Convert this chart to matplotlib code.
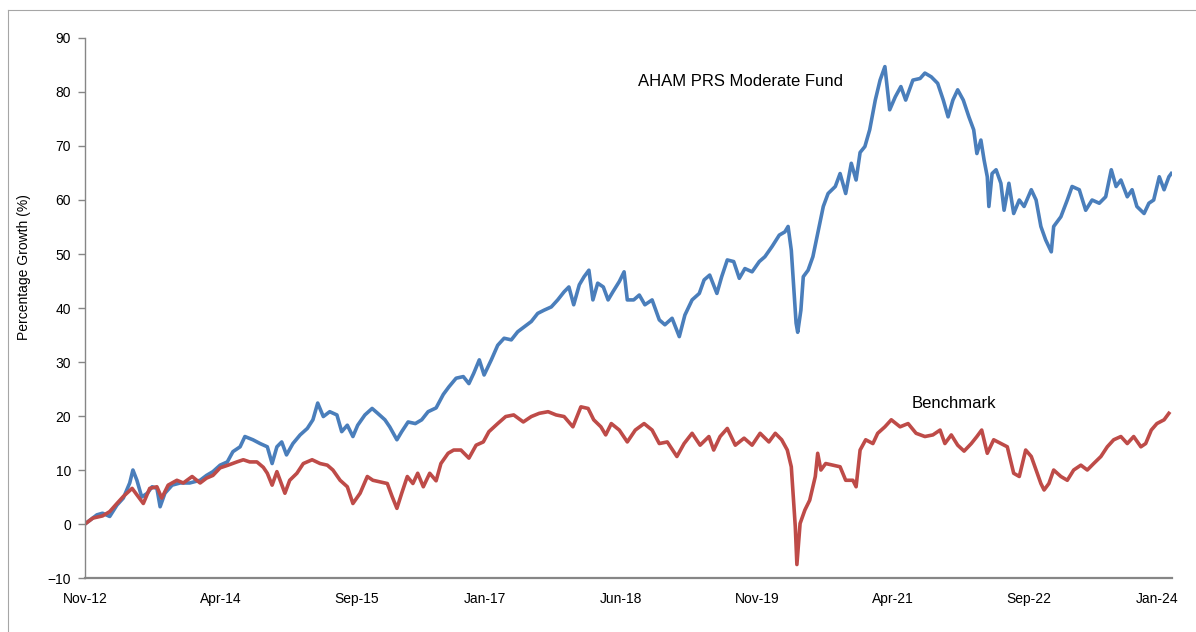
import numpy as np
import pandas as pd
import matplotlib
matplotlib.use("Agg")
import matplotlib.pyplot as plt
from matplotlib.lines import Line2D

FONT = ["Liberation Sans", "DejaVu Sans"]
FUND_COLOR = "#4a7ebb"
BENCH_COLOR = "#be4b48"
AXIS_COLOR = "#868686"
LINE_WIDTH = 2.6

matplotlib.rcParams.update({"font.family": FONT, "font.size": 10})

# x values are months since Nov-2012
fund_months = [
    0, 1.5, 2.2, 3.1, 4, 4.8, 5.6, 6, 6.5, 7.1, 7.8, 8.4, 9, 9.4, 10, 10.9,
    11.9, 13.1, 14.4, 15.2, 16, 16.9, 17.8, 18.5, 19.4, 20, 21, 21.9, 22.8,
    23.4, 24, 24.6, 25.2, 26, 26.9, 27.8, 28.5, 29.1, 29.8, 30.6, 31.5, 32.1,
    32.8, 33.5, 34.1, 35, 35.9, 36.6, 37.5, 38.1, 39, 39.6, 40.4, 41.3, 42.1,
    42.9, 43.9, 44.8, 45.5, 46.4, 47.3, 48, 48.6, 49.3, 49.9, 50.8, 51.6,
    52.4, 53.3, 54.1, 54.9, 55.8, 56.6, 57.4, 58.3, 59.1, 59.9, 60.5, 61.1,
    61.8, 62.4, 63, 63.5, 64.1, 64.8, 65.4, 66, 66.8, 67.4, 67.8, 68.6, 69.3,
    70, 70.9, 71.8, 72.5, 73.4, 74.3, 75, 75.9, 76.8, 77.4, 78.1, 79, 79.6,
    80.3, 81.1, 81.8, 82.5, 83.4, 84.3, 85, 85.9, 86.8, 87.5, 87.9, 88.3,
    88.9, 89.1, 89.5, 89.8, 90.4, 91, 91.6, 92.3, 92.9, 93.8, 94.4, 95.1,
    95.8, 96.4, 96.9, 97.5, 98.1, 98.8, 99.4, 100, 100.6, 101.3, 102, 102.6,
    103.5, 104.4, 105, 105.8, 106.6, 107.3, 107.9, 108.5, 109.1, 109.8, 110.5,
    111.1, 111.5, 112, 112.4, 112.8, 113, 113.4, 113.9, 114.5, 114.9, 115.5,
    116.1, 116.8, 117.4, 118.3, 118.9, 119.5, 120.1, 120.8, 121.1, 122, 122.8,
    123.4, 124.3, 125.1, 125.9, 126.8, 127.6, 128.3, 128.9, 129.5, 130.3,
    130.9, 131.5, 132.4, 133, 133.6, 134.3, 134.9, 135.5, 135.8,
]
fund_growth = [
    0, 1.7, 2, 1.4, 3.5, 4.8, 7.6, 10, 8.1, 5, 5.7, 6.9, 6.6, 3.2, 5.7, 7.2,
    7.6, 7.6, 8.1, 9, 9.7, 10.9, 11.5, 13.4, 14.3, 16.2, 15.6, 14.9, 14.3,
    11.2, 14.3, 15.2, 12.8, 14.9, 16.5, 17.7, 19.3, 22.4, 19.9, 20.8, 20.2,
    17.1, 18.3, 16.2, 18.3, 20.2, 21.4, 20.5, 19.3, 18, 15.6, 17.1, 18.9,
    18.6, 19.3, 20.8, 21.5, 24, 25.4, 27, 27.3, 26, 27.9, 30.4, 27.6, 30.4,
    33.1, 34.4, 34.1, 35.6, 36.5, 37.5, 39, 39.6, 40.2, 41.5, 43, 43.9, 40.6,
    44.3, 45.8, 47, 41.5, 44.6, 43.9, 41.5, 43, 44.9, 46.7, 41.5, 41.5, 42.4,
    40.6, 41.5, 37.8, 36.9, 38.1, 34.7, 38.7, 41.5, 42.7, 45.2, 46.1, 42.7,
    45.8, 48.9, 48.6, 45.5, 47.3, 46.7, 48.6, 49.5, 51.4, 53.5, 54.1, 55.1,
    50.7, 37.2, 35.5, 39.6, 45.8, 47, 49.5, 53.8, 58.8, 61.2, 62.5, 64.9,
    61.2, 66.8, 63.7, 68.8, 69.9, 73, 78.5, 82.2, 84.7, 76.7, 79.1, 81, 78.5,
    82.2, 82.5, 83.5, 82.8, 81.6, 78.5, 75.4, 78.5, 80.4, 78.5, 75.4, 73,
    68.6, 71.1, 67.4, 64.3, 58.8, 64.9, 65.6, 63.1, 58.1, 63.1, 57.5, 60,
    58.8, 61.9, 60, 55.1, 52.6, 50.4, 55.1, 56.9, 60, 62.5, 61.9, 58.1, 60,
    59.4, 60.6, 65.6, 62.5, 63.7, 60.6, 61.9, 58.8, 57.5, 59.4, 60, 64.3,
    61.9, 64.3, 64.9,
]

bench_months = [
    0, 1, 2.2, 3.1, 4, 4.8, 5.9, 6.5, 7.3, 8.1, 9, 9.6, 10.4, 11.5, 12.3,
    13.4, 14.4, 15.2, 16, 16.9, 17.9, 19, 19.8, 20.6, 21.5, 22.3, 22.8, 23.4,
    24, 25, 25.6, 26.5, 27.3, 28.4, 29.4, 30.3, 31, 31.9, 32.8, 33.5, 34.4,
    35.3, 36, 36.9, 37.8, 38.4, 39, 39.6, 40.3, 41, 41.6, 42.3, 43.1, 43.9,
    44.5, 45.4, 46.1, 47, 48, 48.9, 49.8, 50.5, 51.6, 52.6, 53.6, 54.8, 55.8,
    56.8, 57.9, 58.9, 59.9, 61, 62, 62.9, 63.6, 64.5, 65.1, 65.8, 66.8, 67.8,
    68.8, 69.9, 70.9, 71.8, 72.8, 74, 74.9, 75.9, 76.9, 78, 78.6, 79.4, 80.3,
    81.3, 82.4, 83.4, 84.4, 85.5, 86.3, 87.1, 87.8, 88.3, 88.8, 89, 89.4, 90,
    90.6, 91.3, 91.6, 92, 92.6, 93.5, 94.4, 95.1, 96, 96.4, 96.9, 97.6, 98.5,
    99.1, 100, 100.8, 101.9, 102.9, 103.9, 105, 106, 106.9, 107.5, 108.3,
    109.1, 109.9, 110.8, 111.5, 112.1, 112.8, 113.6, 114.5, 115.3, 116.1,
    116.8, 117.6, 118.3, 118.9, 119.5, 119.9, 120.5, 121.1, 122, 122.8, 123.6,
    124.5, 125.3, 126.1, 127, 127.8, 128.6, 129.5, 130.3, 131.1, 132, 132.6,
    133.3, 134, 134.9, 135.5,
]
bench_growth = [
    0, 1.1, 1.5, 2.3, 3.8, 5.1, 6.6, 5.4, 3.8, 6.6, 6.9, 4.8, 7.2, 8.1, 7.6,
    8.8, 7.6, 8.5, 9, 10.4, 10.9, 11.5, 11.9, 11.5, 11.5, 10.5, 9.4, 7.2, 9.7,
    5.7, 8.1, 9.4, 11.2, 11.9, 11.2, 10.9, 10, 8.1, 6.9, 3.8, 5.7, 8.8, 8.1,
    7.8, 7.5, 5.1, 2.9, 5.7, 8.8, 7.5, 9.4, 6.9, 9.4, 8, 11.2, 13.1, 13.7,
    13.7, 12.2, 14.6, 15.2, 17.1, 18.6, 19.9, 20.2, 18.9, 19.9, 20.5, 20.8,
    20.2, 19.9, 18, 21.7, 21.4, 19.3, 18, 16.5, 18.6, 17.4, 15.2, 17.4, 18.6,
    17.4, 14.9, 15.2, 12.5, 14.9, 16.8, 14.6, 16.2, 13.7, 16.2, 17.7, 14.6,
    15.9, 14.6, 16.8, 15.2, 16.8, 15.6, 13.7, 10.6, -0.5, -7.5, 0.1, 2.6, 4.4,
    8.8, 13.1, 10, 11.2, 10.9, 10.6, 8.1, 8.1, 6.9, 13.7, 15.6, 14.9, 16.8,
    18, 19.3, 18, 18.6, 16.8, 16.2, 16.5, 17.4, 14.9, 16.5, 14.6, 13.5, 14.9,
    16.2, 17.4, 13.1, 15.6, 14.9, 14.3, 9.4, 8.8, 13.7, 12.5, 10, 7.5, 6.3,
    7.5, 10, 8.8, 8.1, 10, 10.9, 10, 11.2, 12.5, 14.3, 15.6, 16.2, 14.9, 16.2,
    14.3, 14.9, 17.4, 18.6, 19.3, 20.5,
]

tick_labels = ["Nov-12", "Apr-14", "Sep-15", "Jan-17", "Jun-18",
               "Nov-19", "Apr-21", "Sep-22", "Jan-24"]
y_ticks = list(range(-10, 91, 10))

FUND_NAME = "AHAM PRS Moderate Fund"
BENCH_NAME = "Benchmark"


def _months_since_start(label: str) -> int:
    start = pd.to_datetime(tick_labels[0], format="%b-%y")
    date = pd.to_datetime(label, format="%b-%y")
    return (date.year - start.year) * 12 + (date.month - start.month)


fig = plt.figure(figsize=(11.96, 6.32), dpi=100)
ax = fig.add_axes([0.071, 0.0854, 0.909, 0.8545])

ax.plot(fund_months, fund_growth, color=FUND_COLOR, linewidth=LINE_WIDTH,
        solid_joinstyle="round")
ax.plot(bench_months, bench_growth, color=BENCH_COLOR, linewidth=LINE_WIDTH,
        solid_joinstyle="round")

ax.text(69.1, 81.9, FUND_NAME, ha="left", va="center", fontsize=12)
ax.text(103.4, 22.4, BENCH_NAME, ha="left", va="center", fontsize=12)

ax.set_xlim(0, 135.9)
ax.set_ylim(-10, 90)
ax.set_xticks([_months_since_start(t) for t in tick_labels])
ax.set_xticklabels(tick_labels)
ax.set_yticks(y_ticks)

for side in ("top", "right"):
    ax.spines[side].set_visible(False)
for side in ("left", "bottom"):
    ax.spines[side].set_color(AXIS_COLOR)
ax.spines["left"].set_linewidth(1.0)
ax.spines["bottom"].set_linewidth(1.6)

ax.tick_params(axis="x", length=0, pad=10, labelsize=10, colors="black")
ax.tick_params(axis="y", length=5, width=1, color=AXIS_COLOR, pad=5,
               labelsize=10, labelcolor="black")

ax.set_ylabel("Percentage Growth (%)", fontsize=10)
ax.yaxis.set_label_coords(-0.0495, 0.576)

# thin frame edges of the original screenshot
fig.add_artist(Line2D([8 / 1196, 8 / 1196], [0, 1 - 10 / 632],
                      transform=fig.transFigure, color="#a6a6a6", lw=0.8))
fig.add_artist(Line2D([8 / 1196, 1], [1 - 10 / 632, 1 - 10 / 632],
                      transform=fig.transFigure, color="#a6a6a6", lw=0.8))

fig.savefig("out.png", dpi=100)
